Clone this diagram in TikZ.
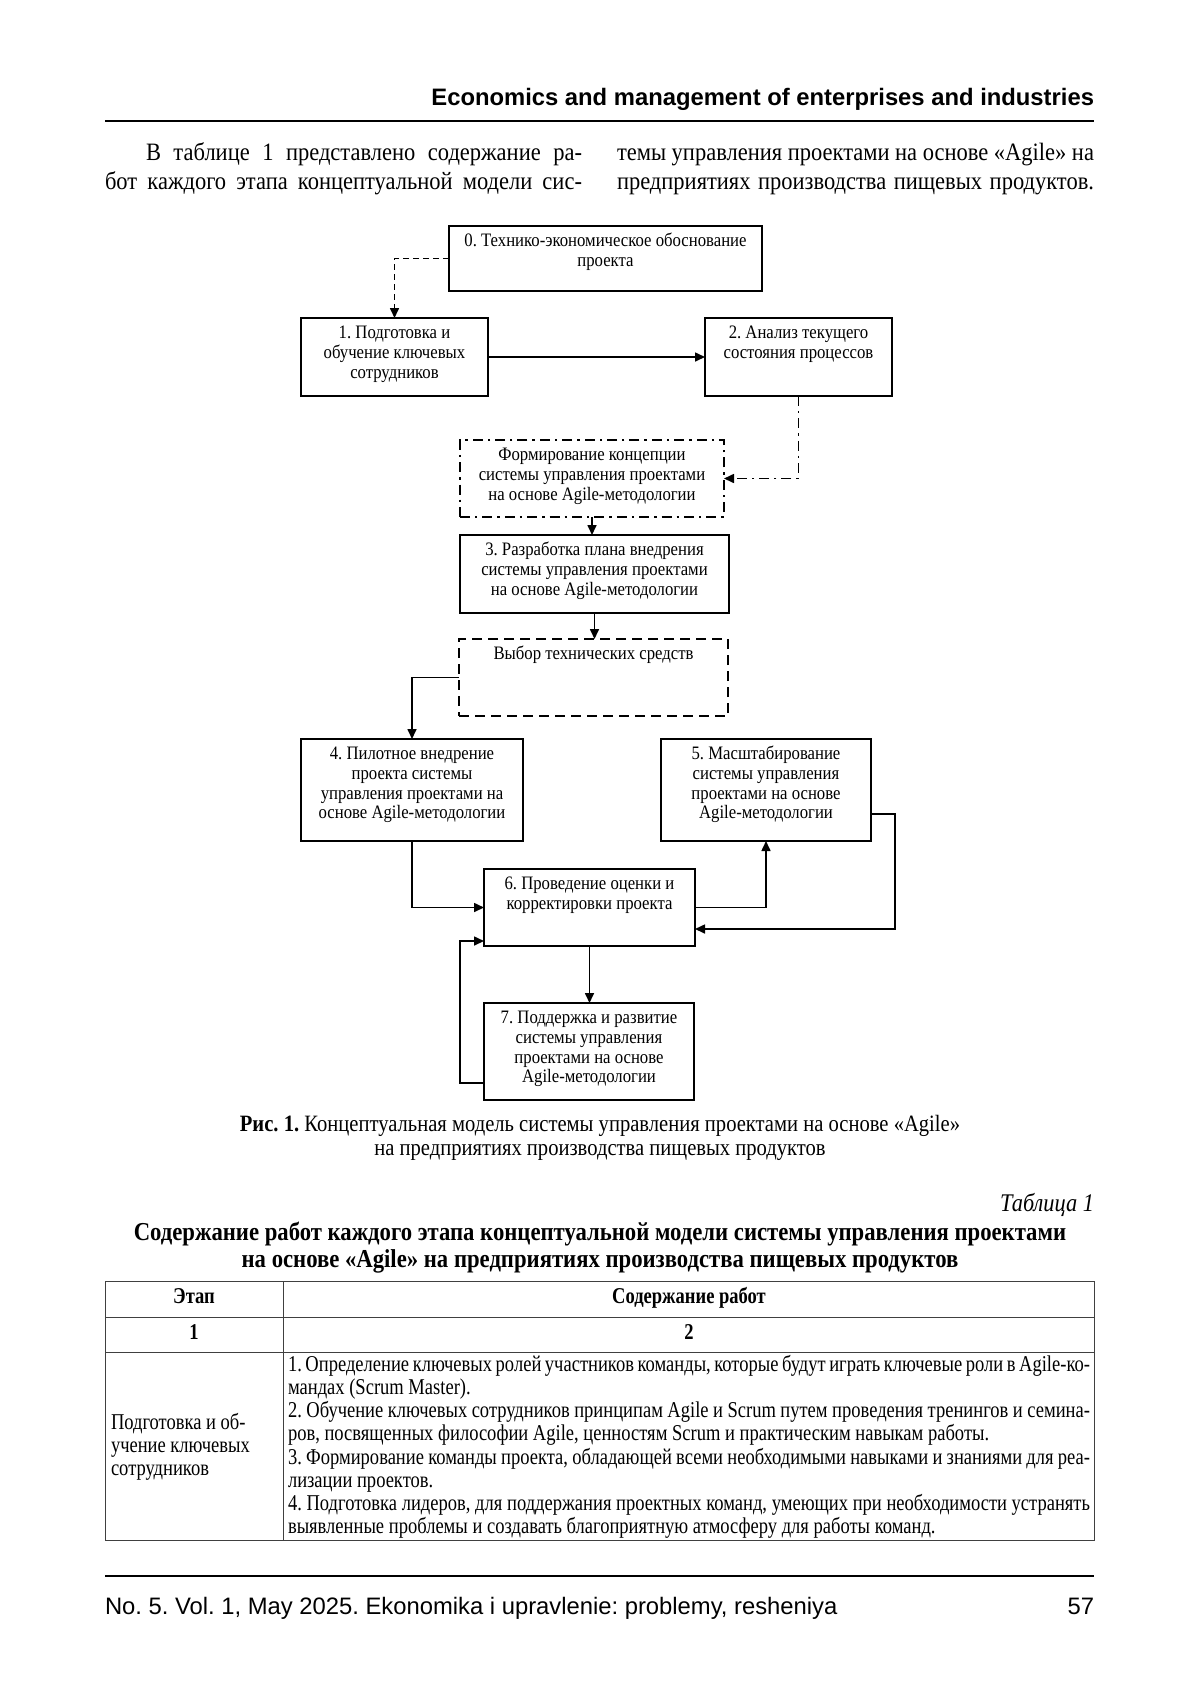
\documentclass[tikz,border=0pt]{standalone}
\usepackage{fontspec}
\setmainfont{Liberation Serif}
\newfontfamily\condf[FakeStretch=0.88]{Liberation Serif}
\newfontfamily\bodyf[FakeStretch=0.90]{Liberation Serif}
\newfontfamily\tablef[FakeStretch=0.82]{Liberation Serif}
\newfontfamily\headf{Liberation Sans}
\usetikzlibrary{arrows.meta}
\frenchspacing
\newcommand\boxtxt[3]{\parbox[c][#2][t]{#1}{\centering\condf\fontsize{9.5}{9.9}\selectfont\rule{0pt}{10.2pt}#3\par}}
\newcommand\jline[2]{\hbox to #1{#2}}
\tikzset{
  x=0.5pt, y=-0.5pt,
  every node/.style={inner sep=0pt, outer sep=0pt},
  flowbox/.style={draw, line width=1pt, anchor=north west},
  dashbox/.style={flowbox, dash pattern=on 5pt off 3pt},
  dotdashbox/.style={flowbox, dash pattern=on 5pt off 2.5pt on 1.2pt off 2.5pt},
  conn/.style={line width=0.8pt, -{Triangle[length=5pt,width=4.5pt]}},
  dconn/.style={conn, dash pattern=on 3pt off 2pt},
  ddconn/.style={conn, dash pattern=on 5pt off 2.5pt on 1.2pt off 2.5pt},
  tblrule/.style={line width=0.5pt, black!75},
  bodytxt/.style={anchor=base west, font=\bodyf\fontsize{12.5}{14}\selectfont},
  tbltxt/.style={anchor=base west, font=\tablef\fontsize{11.3}{12}\selectfont},
  tblhead/.style={anchor=base, font=\tablef\bfseries\fontsize{11.3}{12}\selectfont},
}
\begin{document}
\begin{tikzpicture}
\useasboundingbox (0,0) rectangle (1200,1698);
\fill[white] (0,0) rectangle (1200,1698);

% header
\node[anchor=base east, font=\headf\bfseries\fontsize{11.9}{13}\selectfont] (hdr) at (1094,105) {Economics and management of enterprises and industries};
\draw[line width=1.3pt] (105,121) -- (1094,121);

% paragraph
\node[bodytxt] (p1) at (146,160) {\jline{218pt}{В таблице 1 представлено содержание ра-}};
\node[bodytxt] (p2) at (105,189) {\jline{238.5pt}{бот каждого этапа концептуальной модели сис-}};
\node[bodytxt] (p3) at (617,160) {\jline{238.5pt}{темы управления проектами на основе «Agile» на}};
\node[bodytxt] (p4) at (617,189) {\jline{238.5pt}{предприятиях производства пищевых продуктов.}};

% flow boxes
\node[flowbox] (b0) at (449,226) {\boxtxt{156.5pt}{32.5pt}{0. Технико-экономическое обоснование\\проекта}};
\node[flowbox] (b1) at (301,318) {\boxtxt{93.5pt}{39pt}{1. Подготовка и\\обучение ключевых\\сотрудников}};
\node[flowbox] (b2) at (705,318) {\boxtxt{93.5pt}{39pt}{2. Анализ текущего\\состояния процессов}};
\node[dotdashbox] (bF) at (460,440) {\boxtxt{132pt}{38.5pt}{Формирование концепции\\системы управления проектами\\на основе Agile-методологии}};
\node[flowbox] (b3) at (460,535) {\boxtxt{134.5pt}{39pt}{3. Разработка плана внедрения\\системы управления проектами\\на основе Agile-методологии}};
\node[dashbox] (bV) at (459,639) {\boxtxt{134.5pt}{38.5pt}{Выбор технических средств}};
\node[flowbox] (b4) at (301,739) {\boxtxt{111pt}{51pt}{4. Пилотное внедрение\\проекта системы\\управления проектами на\\основе Agile-методологии}};
\node[flowbox] (b5) at (661,739) {\boxtxt{105pt}{51pt}{5. Масштабирование\\системы управления\\проектами на основе\\Agile-методологии}};
\node[flowbox] (b6) at (484,869) {\boxtxt{105.5pt}{38.5pt}{6. Проведение оценки и\\корректировки проекта}};
\node[flowbox] (b7) at (484,1003) {\boxtxt{105pt}{48.5pt}{7. Поддержка и развитие\\системы управления\\проектами на основе\\Agile-методологии}};

% connectors
\draw[dconn] (b0.west) -| (b1.north);
\draw[conn] (b1.east) -- (b2.west);
\draw[ddconn] (b2.south) |- (bF.east);
\draw[conn] (bF.south) -- (bF.south |- b3.north);
\draw[conn] (b3.south) -- (b3.south |- bV.north);
\draw[conn] (bV.west) -| (b4.north);
\draw[conn] (b4.south) |- (b6.west);
\draw[conn] (b6.east) -| (b5.south);
\draw[conn] ([yshift=-12pt]b5.east) -- ++(12pt,0) |- ([yshift=-10.75pt]b6.east);
\draw[conn] (b6.south) -- (b6.south |- b7.north);
\draw[conn] ([yshift=-15.75pt]b7.west) -- ++(-12pt,0) |- ([yshift=-16.75pt]b6.west);

% caption
\node[anchor=base, font=\condf\fontsize{11.7}{13}\selectfont] (cap1) at (600,1131) {\textbf{Рис. 1.} Концептуальная модель системы управления проектами на основе «Agile»};
\node[anchor=base, font=\condf\fontsize{11.7}{13}\selectfont] (cap2) at (600,1155) {на предприятиях производства пищевых продуктов};

% table title
\node[anchor=base east, font=\condf\itshape\fontsize{12.7}{14}\selectfont] (tnum) at (1094,1211) {Таблица 1};
\node[anchor=base, font=\condf\bfseries\fontsize{12.9}{14}\selectfont] (tt1) at (600,1240) {Содержание работ каждого этапа концептуальной модели системы управления проектами};
\node[anchor=base, font=\condf\bfseries\fontsize{12.9}{14}\selectfont] (tt2) at (600,1267) {на основе «Agile» на предприятиях производства пищевых продуктов};

% table
\draw[tblrule] (105,1281) rectangle (1094,1540);
\draw[tblrule] (283,1281) -- (283,1540);
\draw[tblrule] (105,1317) -- (1094,1317);
\draw[tblrule] (105,1352) -- (1094,1352);
\node[tblhead] (h1) at (194,1303) {Этап};
\node[tblhead] (h2) at (689,1303) {Содержание работ};
\node[tblhead] (n1) at (194,1339) {1};
\node[tblhead] (n2) at (689,1339) {2};

\node[tbltxt] (s1) at (111,1429.5) {Подготовка и об-};
\node[tbltxt] (s2) at (111,1452.6) {учение ключевых};
\node[tbltxt] (s3) at (111,1475.8) {сотрудников};

\node[tbltxt] (r1) at (288,1371.5) {\jline{401pt}{1. Определение ключевых ролей участников команды, которые будут играть ключевые роли в Agile-ко-}};
\node[tbltxt] (r2) at (288,1394.6) {мандах (Scrum Master).};
\node[tbltxt] (r3) at (288,1417.8) {\jline{401pt}{2. Обучение ключевых сотрудников принципам Agile и Scrum путем проведения тренингов и семина-}};
\node[tbltxt] (r4) at (288,1440.9) {ров, посвященных философии Agile, ценностям Scrum и практическим навыкам работы.};
\node[tbltxt] (r5) at (288,1464.1) {\jline{401pt}{3. Формирование команды проекта, обладающей всеми необходимыми навыками и знаниями для реа-}};
\node[tbltxt] (r6) at (288,1487.2) {лизации проектов.};
\node[tbltxt] (r7) at (288,1510.3) {\jline{401pt}{4. Подготовка лидеров, для поддержания проектных команд, умеющих при необходимости устранять}};
\node[tbltxt] (r8) at (288,1533.5) {выявленные проблемы и создавать благоприятную атмосферу для работы команд.};

% footer
\draw[line width=1pt] (105,1576) -- (1094,1576);
\node[anchor=base west, font=\headf\fontsize{11.9}{13}\selectfont] (ftr) at (105,1614) {No. 5. Vol. 1, May 2025. Ekonomika i upravlenie: problemy, resheniya};
\node[anchor=base east, font=\headf\fontsize{11.9}{13}\selectfont] (pg) at (1094,1614) {57};
\end{tikzpicture}
\end{document}
